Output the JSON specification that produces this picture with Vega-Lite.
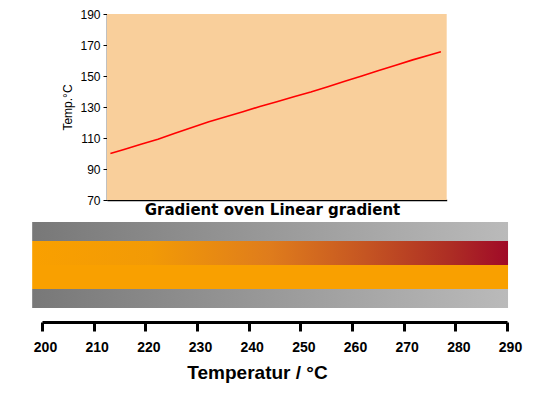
{
  "$schema": "https://vega.github.io/schema/vega-lite/v6.json",
  "width": 550,
  "height": 393,
  "padding": 0,
  "autosize": {"type": "none"},
  "background": "white",
  "config": {"view": {"stroke": null}},
  "layer": [
    {
      "layer": [
        {
          "data": {"values": [{"area": "plot"}]},
          "mark": {"type": "rect", "color": "#f9cf9b"},
          "encoding": {
            "x": {"datum": 0, "type": "quantitative",
              "scale": {"domain": [0, 100], "range": [107, 446.7]},
              "axis": {
                "orient": "bottom", "offset": -193, "labels": false, "ticks": false, "grid": false,
                "domainColor": "#000000", "domainWidth": 1.5,
                "title": "Gradient oven Linear gradient",
                "titleFont": "DejaVu Sans", "titleFontSize": 15, "titleFontWeight": "bold",
                "titleColor": "#000000", "titlePadding": 2, "titleX": 272
              }
            },
            "x2": {"datum": 100},
            "y": {"datum": 70, "type": "quantitative",
              "scale": {"domain": [70, 190], "range": [200, 14]},
              "axis": {
                "orient": "left", "offset": -107, "grid": false,
                "values": [70, 90, 110, 130, 150, 170, 190],
                "tickSize": 4, "tickColor": "#000000", "domainColor": "#000000", "domainWidth": 1.5,
                "labelFont": "Liberation Sans", "labelFontSize": 12, "labelColor": "#000000", "labelPadding": 3,
                "title": "Temp.°C", "titleFont": "Liberation Sans", "titleFontSize": 12,
                "titleFontWeight": "normal", "titleColor": "#000000", "titlePadding": 5
              }
            },
            "y2": {"datum": 190}
          }
        },
        {
          "data": {
            "values": [
              {"position": 1, "temp": 100.0},
              {"position": 5, "temp": 102.6},
              {"position": 10, "temp": 106.0},
              {"position": 15, "temp": 109.2},
              {"position": 20, "temp": 113.1},
              {"position": 25, "temp": 116.8},
              {"position": 30, "temp": 120.5},
              {"position": 35, "temp": 123.7},
              {"position": 40, "temp": 127.0},
              {"position": 45, "temp": 130.3},
              {"position": 50, "temp": 133.4},
              {"position": 55, "temp": 136.6},
              {"position": 60, "temp": 139.7},
              {"position": 65, "temp": 143.1},
              {"position": 70, "temp": 146.6},
              {"position": 75, "temp": 150.0},
              {"position": 80, "temp": 153.5},
              {"position": 85, "temp": 156.9},
              {"position": 90, "temp": 160.4},
              {"position": 95, "temp": 163.6},
              {"position": 98.3, "temp": 165.7}
            ]
          },
          "mark": {"type": "line", "color": "#ff0000", "strokeWidth": 1.6},
          "encoding": {
            "x": {"field": "position", "type": "quantitative"},
            "y": {"field": "temp", "type": "quantitative"}
          }
        }
      ]
    },
    {
      "data": {"values": [{"zone": "oven"}]},
      "layer": [
        {
          "mark": {"type": "rect", "color": {"gradient": "linear", "x1": 0, "y1": 0, "x2": 1, "y2": 0,
            "stops": [{"offset": 0, "color": "#787878"}, {"offset": 1, "color": "#bababa"}]}},
          "encoding": {
            "x": {"datum": 198.1, "type": "quantitative",
              "scale": {"domain": [200, 290], "range": [42, 507]},
              "axis": {
                "orient": "bottom", "offset": -71, "grid": false,
                "values": [200, 210, 220, 230, 240, 250, 260, 270, 280, 290],
                "labelFlush": false, "labelOffset": 3,
                "domainColor": "#000000", "domainWidth": 3,
                "tickColor": "#000000", "tickWidth": 3, "tickSize": 9,
                "labelFont": "Liberation Sans", "labelFontSize": 14, "labelFontWeight": "bold",
                "labelColor": "#000000", "labelPadding": 9,
                "title": "Temperatur / °C", "titleFont": "Liberation Sans", "titleFontSize": 19,
                "titleFontWeight": "bold", "titleColor": "#000000", "titlePadding": 9, "titleX": 257
              }
            },
            "x2": {"datum": 290.2},
            "y": {"datum": 0, "type": "quantitative",
              "scale": {"domain": [0, 18], "range": [222, 308]}, "axis": null},
            "y2": {"datum": 4}
          }
        },
        {
          "mark": {"type": "rect", "color": {"gradient": "linear", "x1": 0, "y1": 0, "x2": 1, "y2": 0,
            "stops": [
              {"offset": 0, "color": "#f9a000"},
              {"offset": 0.25, "color": "#f29a06"},
              {"offset": 0.5, "color": "#df7c1c"},
              {"offset": 0.7, "color": "#c55522"},
              {"offset": 0.88, "color": "#ad2d24"},
              {"offset": 1, "color": "#a00a28"}
            ]}},
          "encoding": {
            "x": {"datum": 198.1, "type": "quantitative"},
            "x2": {"datum": 290.2},
            "y": {"datum": 4, "type": "quantitative"},
            "y2": {"datum": 9}
          }
        },
        {
          "mark": {"type": "rect", "color": "#f9a000"},
          "encoding": {
            "x": {"datum": 198.1, "type": "quantitative"},
            "x2": {"datum": 290.2},
            "y": {"datum": 9, "type": "quantitative"},
            "y2": {"datum": 14}
          }
        },
        {
          "mark": {"type": "rect", "color": {"gradient": "linear", "x1": 0, "y1": 0, "x2": 1, "y2": 0,
            "stops": [{"offset": 0, "color": "#787878"}, {"offset": 1, "color": "#bababa"}]}},
          "encoding": {
            "x": {"datum": 198.1, "type": "quantitative"},
            "x2": {"datum": 290.2},
            "y": {"datum": 14, "type": "quantitative"},
            "y2": {"datum": 18}
          }
        }
      ]
    }
  ],
  "resolve": {"scale": {"x": "independent", "y": "independent"}, "axis": {"x": "independent", "y": "independent"}}
}
